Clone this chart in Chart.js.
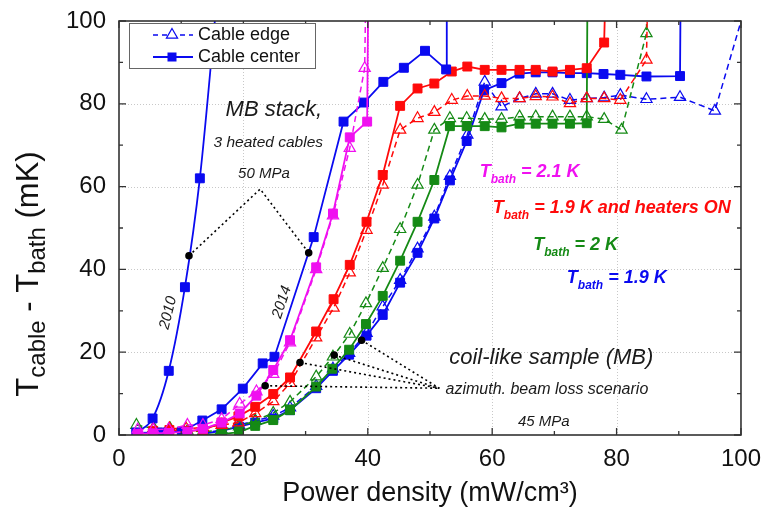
<!DOCTYPE html>
<html><head><meta charset="utf-8">
<script src="https://cdn.jsdelivr.net/npm/chart.js@4/dist/chart.umd.min.js"></script>
<style>html,body{margin:0;padding:0;background:#fff;}</style>
</head><body>
<canvas id="c" width="763" height="510" style="width:763px;height:510px;display:block"></canvas>
<script>
// ---------- tick labels ----------
const xTickValues = [0, 20, 40, 60, 80, 100];
const yTickValues = [0, 20, 40, 60, 80, 100];
const minorTickValues = [10, 30, 50, 70, 90];

// ---------- data [power density, dT] ----------
const mb2010Center = [[2.8,0.6],[5.4,4.0],[8.0,15.5],[10.6,35.7],[13.0,62.0],[15.9,108]];
const mb2014Center = [[2.8,0.5],[6.8,0.6],[10.1,0.8],[13.4,3.5],[16.5,6.2],[19.9,11.2],[23.1,17.3],[25.0,18.9],[31.3,47.8],[36.1,75.7],[39.4,80.3],[42.5,85.3],[45.8,88.7],[49.2,92.8],[52.6,88.3],[52.7,130]];
const t21Center = [[3,0.3],[5.5,0.4],[8,0.5],[11,0.8],[13.5,1.5],[16.5,3.0],[19.4,5.2],[22.1,9.5],[24.8,15.7],[27.5,22.9],[31.7,40.5],[34.4,53.5],[37.1,71.9],[39.9,75.7],[40.2,130]];
const t21Edge = [[3,1.3],[5.5,1.3],[8,1.4],[11,2.4],[13.5,2.4],[16.5,3.8],[19.4,7.5],[22.1,10.5],[24.8,14.7],[27.5,22.3],[31.7,40.0],[34.4,53.0],[37.1,69.3],[39.5,88.6],[39.9,130]];
const t19hCenter = [[5.5,1.0],[8.1,1.2],[10.8,1.0],[13.5,1.2],[16.5,3.0],[19.2,4.5],[21.9,6.8],[24.8,9.9],[27.5,13.9],[31.7,25.0],[34.5,32.8],[37.1,41.1],[39.8,51.5],[42.4,62.8],[45.2,79.5],[48,83.7],[50.7,84.9],[53.5,87.8],[56,89.0],[58.8,88.2],[61.5,88.2],[64.4,88.2],[67,88.2],[69.7,87.8],[72.5,88.2],[75.2,88.6],[78,94.8],[78.6,130]];
const t19hEdge = [[5.5,1.5],[8.1,1.6],[10.8,1.5],[13.5,1.8],[16.5,2.4],[19.2,3.0],[21.9,5.2],[24.8,8.1],[27.5,12.5],[31.7,23.5],[34.5,30.7],[37.1,39.2],[39.8,49.5],[42.4,60.4],[45.2,73.7],[48,76.5],[50.7,78.0],[53.5,80.9],[56,81.9],[58.8,81.9],[61.5,81.3],[64.4,81.3],[67,81.8],[69.7,81.7],[72.5,80.1],[75.2,81.3],[78,81.3],[80.6,80.9],[84.8,90.6],[85.3,130]];
const t20Center = [[13.5,0.0],[16.5,0.2],[19.3,0.7],[21.9,2.2],[24.8,3.6],[27.5,6.0],[31.7,11.7],[34.3,16.0],[37,20.6],[39.7,26.8],[42.4,33.6],[45.2,42.1],[48,51.5],[50.7,61.6],[53.2,74.6],[55.9,74.6],[58.8,74.6],[61.5,74.3],[64.4,75.2],[67,75.2],[69.7,75.2],[72.5,75.2],[75.2,75.3],[75.4,130]];
const t20Edge = [[2.8,2.4],[5.6,1.6],[8.2,1.6],[11,1.0],[13.5,0.8],[16.5,1.2],[19.3,2.0],[21.9,3.5],[24.8,5.3],[27.5,8.0],[31.7,14.1],[34.4,18.9],[37.1,24.4],[39.7,31.8],[42.4,40.3],[45.2,49.7],[48,60.4],[50.7,73.7],[53.2,76.5],[55.9,76.5],[58.8,76.3],[61.5,76.3],[64.4,76.9],[67,76.9],[69.7,76.9],[72.5,76.9],[75.2,76.9],[78,76.3],[80.8,73.7],[84.8,97.0],[85.2,130]];
const t19Center = [[13.5,0.3],[16.5,1.0],[19.3,2.0],[21.9,3.0],[24.8,4.0],[27.5,6.0],[31.7,11.3],[34.4,15.5],[37,19.4],[39.8,24.0],[42.4,29.0],[45.2,36.8],[48,44.0],[50.7,52.3],[53.2,61.5],[55.9,71.0],[58.7,83.3],[61.5,85.0],[64.4,87.3],[67,87.6],[69.7,87.6],[72.5,87.4],[75.2,87.4],[77.9,87.2],[80.6,87.0],[84.8,86.6],[90.2,86.7],[90.4,130]];
const t19Edge = [[13.5,0.5],[16.5,1.2],[19.3,2.4],[21.9,3.4],[24.8,4.6],[27.5,6.6],[31.7,11.8],[34.4,16.0],[37,19.8],[39.8,24.6],[42.4,31.0],[45.2,37.4],[48,45.0],[50.7,52.7],[53.2,62.5],[56,72.5],[58.8,85.3],[61.5,79.3],[64.4,81.3],[67,82.4],[69.7,82.4],[72.5,80.9],[75.2,81.3],[78,81.5],[80.6,82.1],[84.8,81.1],[90.2,81.6],[95.8,78.3],[100.6,103]];

// annotation leader lines (data coordinates)
const mbLeader = [[11.25,43.3],[22.7,59.4],[30.5,44.0]];
const coilLeaderStarts = [[23.5,11.9],[29.1,17.5],[34.6,19.3],[39.0,22.9]];
const coilLeaderEnd = [51.5,11.3];

const BLUE = '#0a0af0', MAG = '#f010f0', RED = '#ff0a0a', GREEN = '#158a15';
const FONT = '"Liberation Sans", Arial, sans-serif';

const pts = a => a.map(p => ({x: p[0], y: p[1]}));

function centerDs(data, color, extra) {
  return Object.assign({data: pts(data), borderColor: color, backgroundColor: color, borderWidth: 1.8,
    pointStyle: 'rect', pointRadius: 6.3, pointBackgroundColor: color, pointBorderColor: color, pointBorderWidth: 1,
    tension: 0, fill: false}, extra || {});
}
function edgeDs(data, color) {
  return {data: pts(data), borderColor: color, borderWidth: 1.5, borderDash: [6, 4],
    pointStyle: 'triangle', pointRadius: 6.5, pointBackgroundColor: 'rgba(255,255,255,0)', pointBorderColor: color,
    pointBorderWidth: 1.2, tension: 0, fill: false};
}
function leaderDs(data, dots) {
  return {data: pts(data), borderColor: '#000', borderWidth: 1.6, borderDash: [2, 3],
    pointRadius: dots, pointBackgroundColor: '#000', pointBorderColor: '#000', pointStyle: 'circle', fill: false, tension: 0};
}

const datasets = [
  leaderDs(mbLeader, [3, 0, 3]),
  ...coilLeaderStarts.map(s => leaderDs([s, coilLeaderEnd], [3, 0])),
  edgeDs(t21Edge, MAG),
  centerDs(t21Center, MAG),
  centerDs(mb2014Center, BLUE),
  centerDs(mb2010Center, BLUE, {cubicInterpolationMode: 'monotone'}),
  edgeDs(t19hEdge, RED),
  centerDs(t19hCenter, RED),
  edgeDs(t20Edge, GREEN),
  centerDs(t20Center, GREEN),
  edgeDs(t19Edge, BLUE),
  centerDs(t19Center, BLUE),
];

// ---------- text annotations (data coordinates) ----------
const plainNotes = [
  {text: 'MB stack,', x: 24.9, y: 78.5, size: 22},
  {text: '3 heated cables', x: 24.0, y: 70.5, size: 15.5},
  {text: '50 MPa', x: 23.3, y: 63.0, size: 15},
  {text: '2010', x: 7.9, y: 29.5, size: 15, rot: -76},
  {text: '2014', x: 26.2, y: 32.1, size: 15, rot: -72},
  {text: 'coil-like sample (MB)', x: 69.5, y: 18.6, size: 22},
  {text: 'azimuth. beam loss scenario', x: 68.8, y: 10.9, size: 16},
  {text: '45 MPa', x: 68.3, y: 3.1, size: 15},
];
const bathNotes = [
  {rest: ' = 2.1 K', x: 58.0, y: 63.5, color: MAG},
  {rest: ' = 1.9 K and heaters ON', x: 60.1, y: 54.8, color: RED},
  {rest: ' = 2 K', x: 66.6, y: 45.9, color: GREEN},
  {rest: ' = 1.9 K', x: 72.0, y: 37.9, color: BLUE},
];

const framePlugin = {
  id: 'framePlugin',
  beforeDatasetsDraw(chart) {
    const {ctx, chartArea: a, scales: {x, y}} = chart;
    ctx.save();
    ctx.strokeStyle = '#c8c8c8'; ctx.lineWidth = 1; ctx.setLineDash([1, 2]);
    xTickValues.slice(1, -1).forEach(v => { const px = Math.round(x.getPixelForValue(v)) + 0.5;
      ctx.beginPath(); ctx.moveTo(px, a.top); ctx.lineTo(px, a.bottom); ctx.stroke(); });
    yTickValues.slice(1, -1).forEach(v => { const py = Math.round(y.getPixelForValue(v)) + 0.5;
      ctx.beginPath(); ctx.moveTo(a.left, py); ctx.lineTo(a.right, py); ctx.stroke(); });
    ctx.restore();
  },
  afterDatasetsDraw(chart) {
    const {ctx, chartArea: a, scales: {x, y}} = chart;
    ctx.save();
    ctx.strokeStyle = '#333'; ctx.lineWidth = 1.6; ctx.setLineDash([]);
    ctx.strokeRect(a.left, a.top, a.right - a.left, a.bottom - a.top);
    const tick = (vals, len) => {
      vals.forEach(v => {
        const px = x.getPixelForValue(v);
        ctx.beginPath(); ctx.moveTo(px, a.bottom); ctx.lineTo(px, a.bottom - len);
        ctx.moveTo(px, a.top); ctx.lineTo(px, a.top + len); ctx.stroke();
        const py = y.getPixelForValue(v);
        ctx.beginPath(); ctx.moveTo(a.left, py); ctx.lineTo(a.left + len, py);
        ctx.moveTo(a.right, py); ctx.lineTo(a.right - len, py); ctx.stroke();
      });
    };
    ctx.lineWidth = 1.3;
    tick(xTickValues, 7); tick(minorTickValues, 4);
    ctx.restore();
  },
  afterDraw(chart) {
    const {ctx, chartArea: a, scales: {x, y}} = chart;
    ctx.save();
    plainNotes.forEach(n => {
      ctx.save();
      ctx.translate(x.getPixelForValue(n.x), y.getPixelForValue(n.y));
      if (n.rot) ctx.rotate(n.rot * Math.PI / 180);
      ctx.font = 'italic ' + n.size + 'px ' + FONT;
      ctx.fillStyle = '#1a1a1a'; ctx.textAlign = 'center'; ctx.textBaseline = 'middle';
      ctx.fillText(n.text, 0, 0);
      ctx.restore();
    });
    bathNotes.forEach(n => {
      let px = x.getPixelForValue(n.x); const py = y.getPixelForValue(n.y);
      ctx.fillStyle = n.color; ctx.textAlign = 'left'; ctx.textBaseline = 'middle';
      ctx.font = 'italic bold 18px ' + FONT; ctx.fillText('T', px, py); px += ctx.measureText('T').width;
      ctx.font = 'italic bold 12px ' + FONT; ctx.fillText('bath', px, py + 8); px += ctx.measureText('bath').width;
      ctx.font = 'italic bold 18px ' + FONT; ctx.fillText(n.rest, px, py);
    });
    // y axis title with subscripts
    const yParts = [['T', 0], ['cable', 1], [' - T', 0], ['bath', 1], [' (mK)', 0]];
    const mainF = '31px ' + FONT, subF = '24px ' + FONT;
    let total = 0;
    yParts.forEach(p => { ctx.font = p[1] ? subF : mainF; total += ctx.measureText(p[0]).width; });
    ctx.save();
    ctx.translate(29, 274); ctx.rotate(-Math.PI / 2);
    ctx.fillStyle = '#111'; ctx.textAlign = 'left'; ctx.textBaseline = 'middle';
    let cx = -total / 2;
    yParts.forEach(p => { ctx.font = p[1] ? subF : mainF; ctx.fillText(p[0], cx, p[1] ? 9 : 0); cx += ctx.measureText(p[0]).width; });
    ctx.restore();
    // legend
    const lx = a.left + 10, ly = a.top + 2, lw = 186, lh = 45;
    ctx.fillStyle = '#fff'; ctx.fillRect(lx, ly, lw, lh);
    ctx.strokeStyle = '#666'; ctx.lineWidth = 1; ctx.setLineDash([]);
    ctx.strokeRect(lx + 0.5, ly + 0.5, lw, lh);
    const r1 = ly + 12, r2 = ly + 34, sx0 = lx + 24, sx1 = lx + 64, mx = lx + 43;
    ctx.strokeStyle = BLUE; ctx.lineWidth = 1.5; ctx.setLineDash([5, 4]);
    ctx.beginPath(); ctx.moveTo(sx0, r1); ctx.lineTo(sx1, r1); ctx.stroke();
    ctx.setLineDash([]); ctx.fillStyle = '#fff';
    ctx.beginPath(); ctx.moveTo(mx, r1 - 6.5); ctx.lineTo(mx + 5.6, r1 + 3.2); ctx.lineTo(mx - 5.6, r1 + 3.2); ctx.closePath();
    ctx.fill(); ctx.lineWidth = 1.2; ctx.stroke();
    ctx.lineWidth = 1.8;
    ctx.beginPath(); ctx.moveTo(sx0, r2); ctx.lineTo(sx1, r2); ctx.stroke();
    ctx.fillStyle = BLUE; ctx.fillRect(mx - 4.5, r2 - 4.5, 9, 9);
    ctx.fillStyle = '#111'; ctx.font = '18px ' + FONT; ctx.textAlign = 'left'; ctx.textBaseline = 'middle';
    ctx.fillText('Cable edge', lx + 69, r1); ctx.fillText('Cable center', lx + 69, r2);
    ctx.restore();
  }
};

new Chart(document.getElementById('c'), {
  type: 'line',
  data: {datasets},
  options: {
    responsive: false, animation: false, devicePixelRatio: 1,
    layout: {padding: {left: 0, top: 21, right: 22, bottom: 0}},
    plugins: {legend: {display: false}, tooltip: {enabled: false}},
    scales: {
      x: {type: 'linear', min: 0, max: 100,
        afterBuildTicks: s => { s.ticks = xTickValues.map(v => ({value: v})); },
        afterFit: s => { s.height = 75; },
        grid: {display: false}, border: {display: false},
        ticks: {font: {size: 24, family: FONT}, color: '#111', padding: 2, maxRotation: 0, autoSkip: false},
        title: {display: true, text: 'Power density (mW/cm³)', font: {size: 27, family: FONT}, color: '#111', padding: {top: 2, bottom: 0}}},
      y: {type: 'linear', min: 0, max: 100,
        afterBuildTicks: s => { s.ticks = yTickValues.map(v => ({value: v})); },
        afterFit: s => { s.width = 119; },
        grid: {display: false}, border: {display: false},
        ticks: {font: {size: 24, family: FONT}, color: '#111', padding: 5, autoSkip: false}}
    }
  },
  plugins: [framePlugin]
});
</script>
</body></html>
